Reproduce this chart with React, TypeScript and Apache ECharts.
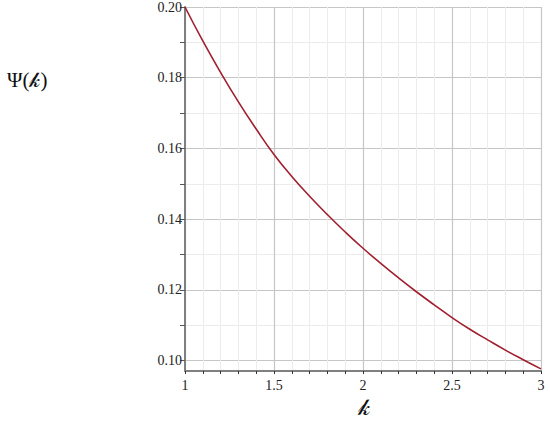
import React, { useEffect, useRef } from "react";
import * as echarts from "echarts";

const kValues = [1.0, 1.1, 1.2, 1.3, 1.4, 1.5, 1.6, 1.7, 1.8, 1.9, 2.0, 2.1, 2.2, 2.3, 2.4, 2.5, 2.6, 2.7, 2.8, 2.9, 3.0];
const psiValues = [
  0.2, 0.1904, 0.1815, 0.1732, 0.1655, 0.1583, 0.1521, 0.1465, 0.1413, 0.1364,
  0.1318, 0.1275, 0.1234, 0.1195, 0.1158, 0.1122, 0.1089, 0.1059, 0.103, 0.1003, 0.0977,
];
const yMajorTicks = [0.1, 0.12, 0.14, 0.16, 0.18, 0.2];
const yAllTicks = [0.1, 0.11, 0.12, 0.13, 0.14, 0.15, 0.16, 0.17, 0.18, 0.19, 0.2];
const xMin = 1;
const xMax = 3;
const xInterval = 0.5;
const yMin = 0.0971;
const yMax = 0.2;
const yTitle = "Ψ(𝓀)";
const xTitle = "𝓀";

const FONT = '"Liberation Serif", "DejaVu Serif", serif';

export default function App() {
  const ref = useRef<HTMLDivElement>(null);
  useEffect(() => {
    if (!ref.current) return;
    const chart = echarts.init(ref.current, null, { renderer: "svg" });
    const axisColor = "#808080";
    const majorGrid = "#c6c6c6";
    const minorGrid = "#ececec";
    chart.setOption({
      animation: false,
      backgroundColor: "#ffffff",
      grid: { left: 185, right: 9, top: 7, bottom: 52, containLabel: false },
      xAxis: {
        type: "value",
        min: xMin,
        max: xMax,
        interval: xInterval,
        axisLine: { show: true, onZero: false, lineStyle: { color: axisColor, width: 2 } },
        axisTick: { show: true, length: 3, lineStyle: { color: "#333" } },
        minorTick: { show: true, splitNumber: 5, length: 3, lineStyle: { color: "#333" } },
        splitLine: { show: true, lineStyle: { color: majorGrid, width: 1.2 } },
        minorSplitLine: { show: true, lineStyle: { color: minorGrid, width: 1 } },
        axisLabel: {
          fontFamily: FONT,
          fontSize: 14,
          color: "#222",
          margin: 7,
          formatter: (v: number) => String(v),
        },
      },
      yAxis: [
        {
          type: "value",
          min: yMin,
          max: yMax,
          axisLine: { show: true, onZero: false, lineStyle: { color: axisColor, width: 2 } },
          axisTick: { show: true, customValues: yAllTicks, length: 5, lineStyle: { color: "#555" } },
          axisLabel: {
            customValues: yMajorTicks,
            fontFamily: FONT,
            fontSize: 14,
            color: "#222",
            margin: 3,
            formatter: (v: number) => v.toFixed(2),
          },
          splitLine: { show: true, lineStyle: { color: minorGrid, width: 1 } },
        },
        {
          type: "value",
          min: yMin,
          max: yMax,
          position: "left",
          axisLine: { show: false },
          axisTick: { show: false, customValues: yMajorTicks },
          axisLabel: { show: false, customValues: yMajorTicks },
          splitLine: { show: true, lineStyle: { color: majorGrid, width: 1.2 } },
        },
      ],
      series: [
        {
          type: "line",
          data: kValues.map((k, i) => [k, psiValues[i]]),
          showSymbol: false,
          smooth: 0.5,
          lineStyle: { color: "#a01f30", width: 1.6 },
          z: 5,
        },
      ],
      graphic: [
        {
          type: "text",
          left: 7,
          top: 69,
          style: { text: yTitle, font: `21px ${FONT}`, fill: "#111" },
        },
        {
          type: "text",
          left: 358,
          top: 396,
          style: { text: xTitle, font: `23px ${FONT}`, fill: "#111" },
        },
      ],
    });
    return () => chart.dispose();
  }, []);
  return <div ref={ref} style={{ width: 550, height: 423, position: "absolute", left: 0, top: 0 }} />;
}
